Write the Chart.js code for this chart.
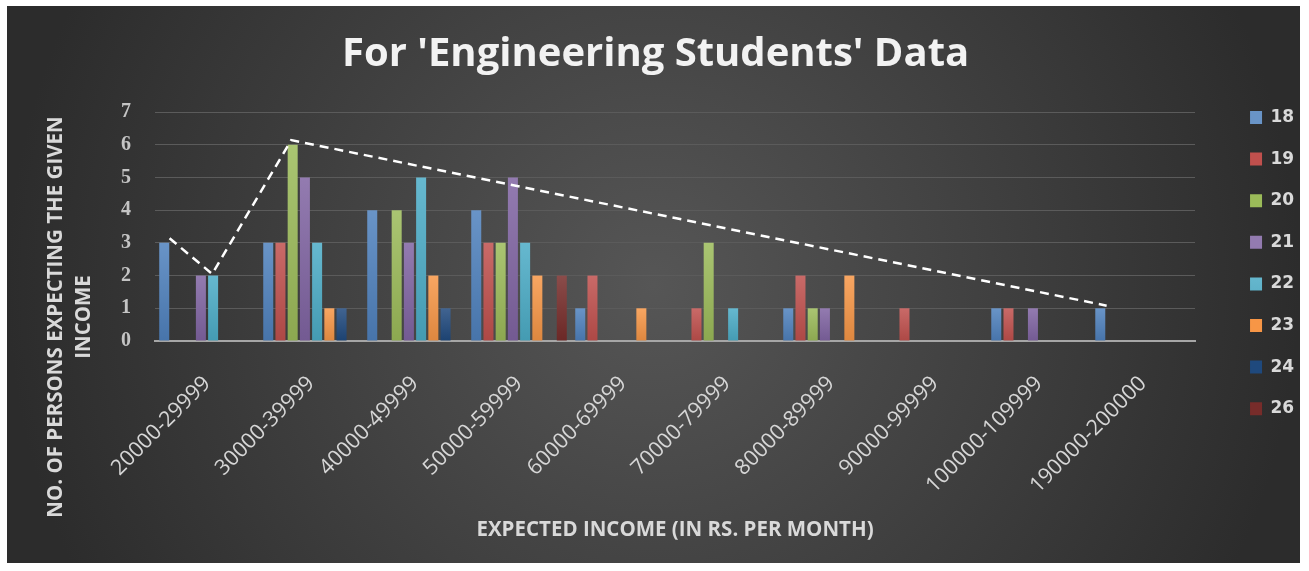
<!DOCTYPE html>
<html><head><meta charset="utf-8">
<script src="https://cdn.jsdelivr.net/npm/chart.js@4.4.1/dist/chart.umd.min.js"></script>
<style>
html,body{margin:0;padding:0;background:#fff;width:1309px;height:571px;overflow:hidden;position:relative;}
#panel{position:absolute;left:7px;top:6px;width:1293px;height:557px;
background:radial-gradient(circle farthest-side at 50% 50%, #565656 0%, #2c2c2c 100%);}
#c{position:absolute;left:7px;top:6px;}
</style></head><body>
<div id="panel"></div>
<canvas id="c" width="1302" height="557"></canvas>
<script>
const categories = ['20000-29999','30000-39999','40000-49999','50000-59999','60000-69999','70000-79999','80000-89999','90000-99999','100000-109999','190000-200000'];
const seriesNames = ['18','19','20','21','22','23','24','26'];
const s18 = [3,3,4,4,1,0,1,0,1,1];
const s19 = [0,3,0,3,2,1,2,1,1,0];
const s20 = [0,6,4,3,0,3,1,0,0,0];
const s21 = [2,5,3,5,0,0,1,0,1,0];
const s22 = [2,3,5,3,0,1,0,0,0,0];
const s23 = [0,1,2,2,1,0,2,0,0,0];
const s24 = [0,1,1,0,0,0,0,0,0,0];
const s26 = [0,0,0,2,0,0,0,0,0,0];
const seriesValues = [s18,s19,s20,s21,s22,s23,s24,s26];
const seriesColors = ['#4F81BD','#C0504D','#9BBB59','#8064A2','#4BACC6','#F79646','#1F497D','#772C2A'];
const yTicks = [0,1,2,3,4,5,6,7];
// hand-drawn dashed trend line: x in category-index units (0 = centre of first category), y in persons
const trendX = [-0.36, 0.05, 0.81, 8.65];
const trendY = [3.14, 2.05, 6.14, 1.08];
const titleText = "For 'Engineering Students' Data";
const xTitleText = 'EXPECTED INCOME (IN RS. PER MONTH)';
const yTitleLines = ['NO. OF PERSONS EXPECTING THE GIVEN','INCOME'];

function mix(hex, target, t){
  const n=parseInt(hex.slice(1),16); const r=n>>16&255,g=n>>8&255,b=n&255;
  const tv = target==='w'?255:0;
  return 'rgb('+Math.round(r+(tv-r)*t)+','+Math.round(g+(tv-g)*t)+','+Math.round(b+(tv-b)*t)+')';
}
function barFill(col){
  return function(c){
    const ch=c.chart, a=ch.chartArea;
    if(!a || !c.parsed || c.type!=='data') return col;
    const yTop = ch.scales.y.getPixelForValue(c.parsed.y);
    if(!(a.bottom - yTop > 0)) return col;
    const g = ch.ctx.createLinearGradient(0,yTop,0,a.bottom);
    g.addColorStop(0, mix(col,'w',0.15));
    g.addColorStop(1, mix(col,'b',0.1));
    return g;
  };
}

const datasets = seriesNames.map((n,i)=>({
  label:n, data:seriesValues[i], backgroundColor:barFill(seriesColors[i]),
  borderWidth:0, categoryPercentage:0.94, barPercentage:0.82
}));
datasets.push({
  type:'line', label:'trend', parsing:false,
  data:trendX.map((x,i)=>({x:x,y:trendY[i]})),
  borderColor:'#ffffff', borderWidth:2.5, borderDash:[9,6],
  pointRadius:0, tension:0, fill:false, order:-1
});

const yTitlePlugin = {
  id:'yTitle',
  afterDraw(chart){
    const ctx=chart.ctx; ctx.save();
    ctx.translate(63,311); ctx.rotate(-Math.PI/2);
    ctx.font='bold 20.5px "Open Sans"'; ctx.fillStyle='#d9d9d9';
    ctx.textAlign='center'; ctx.textBaseline='middle';
    ctx.fillText(yTitleLines[0],0,-14);
    ctx.fillText(yTitleLines[1],0,14);
    ctx.restore();
  }
};

new Chart(document.getElementById('c'), {
  type:'bar',
  data:{labels:categories, datasets:datasets},
  plugins:[yTitlePlugin],
  options:{
    responsive:false, animation:false, devicePixelRatio:1,
    layout:{padding:{left:0,top:0,bottom:0,right:4.8}},
    plugins:{
      tooltip:{enabled:false},
      title:{display:true, text:titleText, color:'#f2f2f2',
        font:{family:'"Open Sans"', size:40, weight:'bold'}, padding:{top:25,bottom:0}},
      legend:{position:'right', align:'start',
        title:{display:true, text:'', padding:{top:64,bottom:0}},
        labels:{boxWidth:12, boxHeight:13, padding:24.6, color:'#d9d9d9',
          font:{family:'"DejaVu Sans"', size:17, weight:'bold'},
          filter:(it)=>it.datasetIndex<8}}
    },
    scales:{
      x:{type:'category', position:'bottom', offset:true,
        grid:{display:false, drawTicks:false},
        border:{display:true, color:'#a6a6a6', width:2},
        ticks:{color:'#d6d6d6', font:{family:'"Open Sans"', size:21.5}, padding:30,
          minRotation:45, maxRotation:45, autoSkip:false},
        title:{display:true, text:xTitleText, color:'#d9d9d9',
          font:{family:'"Open Sans"', size:20.5, weight:'bold'}, padding:{top:0,bottom:20.7}},
        afterFit:(s)=>{s.height=222;}
      },
      xT:{type:'linear', position:'top', min:0, max:10, display:true, offset:false,
        ticks:{display:false}, grid:{display:false, drawTicks:false}, border:{display:false},
        afterFit:(s)=>{s.height=33;}
      },
      y:{type:'linear', position:'left', min:0, max:7,
        afterBuildTicks:(s)=>{s.ticks=yTicks.map(v=>({value:v}));},
        grid:{color:'#5b5b5b', lineWidth:1, drawTicks:false},
        border:{display:false},
        ticks:{color:'#c4c4c4', font:{family:'"Liberation Serif"', size:20, weight:'bold'}, padding:24},
        afterFit:(s)=>{s.width=148;}
      },
      yR:{type:'linear', position:'right', display:true,
        ticks:{display:false}, grid:{display:false, drawTicks:false}, border:{display:false},
        afterFit:(s)=>{s.width=30.4;}
      }
    }
  }
});
</script>
</body></html>
